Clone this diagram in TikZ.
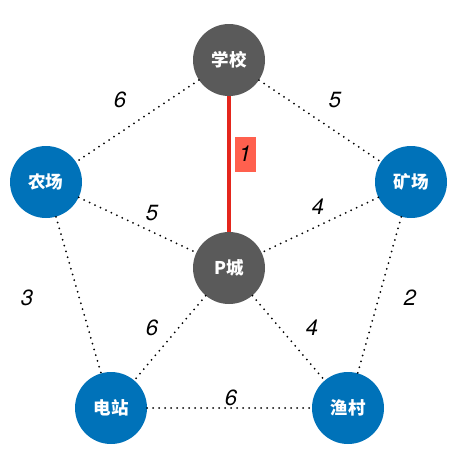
\documentclass[tikz,border=0pt]{standalone}
\usepackage{fontspec}
\setmainfont{TeX Gyre Heros}
\newfontfamily\cjk{Noto Sans CJK SC}
\usetikzlibrary{positioning}
\definecolor{town}{RGB}{0,114,185}
\definecolor{hub}{RGB}{90,90,90}
\definecolor{mst}{RGB}{228,38,28}
\definecolor{tag}{RGB}{255,96,78}
\tikzset{
  site/.style={circle,fill=town,text=white,minimum size=72pt,inner sep=0pt,font=\cjk\bfseries\fontsize{17.5}{17.5}\selectfont},
  core/.style={site,fill=hub},
  road/.style={line width=2pt,dash pattern=on 0pt off 6pt,line cap=round},
  pick/.style={draw=mst,line width=3.5pt},
  wt/.style={font=\itshape\fontsize{22}{22}\selectfont,inner sep=1pt},
  wtbox/.style={wt,fill=tag,minimum width=21pt,minimum height=35pt}
}

\begin{document}
\begin{tikzpicture}[x=1pt,y=-1pt]
\useasboundingbox (0,0) rectangle (459,451);
% towns
\node[core] (school) at (229,60) {学校};
\node[site] (farm) at (46,182) {农场};
\node[site] (mine) at (411,182) {矿场};
\node[core] (pcity) at (229,268) {P城};
\node[site] (plant) at (111,408) {电站};
\node[site] (fish) at (348,408) {渔村};
% roads
\draw[road] (school) -- (farm);
\draw[road] (school) -- (mine);
\draw[road] (farm) -- (pcity);
\draw[road] (mine) -- (pcity);
\draw[road] (farm) -- (plant);
\draw[road] (mine) -- (fish);
\draw[road] (pcity) -- (plant);
\draw[road] (pcity) -- (fish);
\draw[road] (plant) -- (fish);
\draw[pick] (school) -- (pcity);
% weights
\node[wt] (w1) at (120,100) {6};
\node[wt] (w2) at (335,100) {5};
\node[wtbox] (w3) at (245,154) {1};
\node[wt] (w4) at (152,213) {5};
\node[wt] (w5) at (318,207) {4};
\node[wt] (w6) at (27,298) {3};
\node[wt] (w7) at (410,298) {2};
\node[wt] (w8) at (152,328) {6};
\node[wt] (w9) at (312,328) {4};
\node[wt] (w10) at (231,398) {6};
\end{tikzpicture}
\end{document}
